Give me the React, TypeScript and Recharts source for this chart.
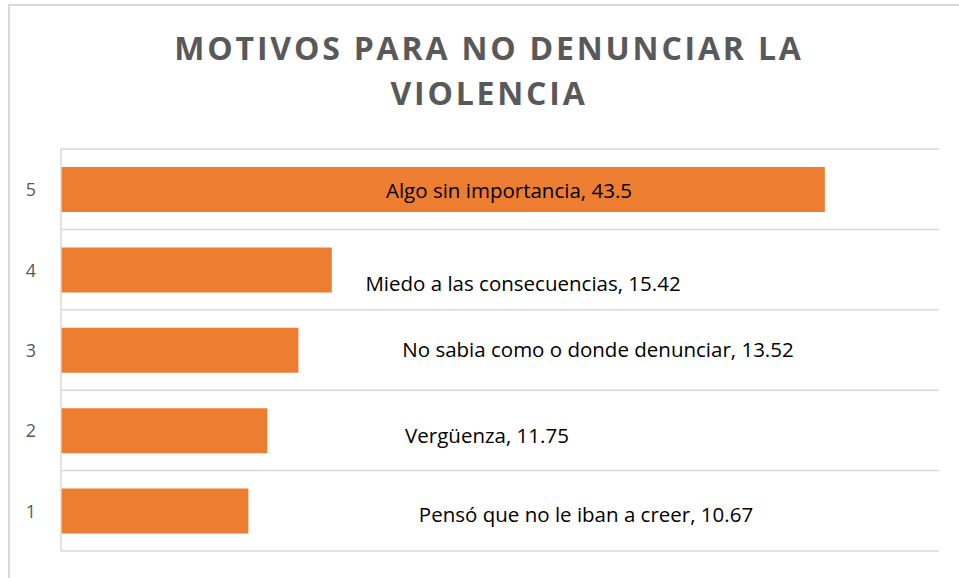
import { BarChart, Bar, XAxis, YAxis, CartesianGrid, LabelList } from "recharts"

// categories 1..5 (1 at the bottom)
const categories = ["1", "2", "3", "4", "5"]
const motivos = [
  "Pensó que no le iban a creer",
  "Vergüenza",
  "No sabia como o donde denunciar",
  "Miedo a las consecuencias",
  "Algo sin importancia",
]
const valores = [10.67, 11.75, 13.52, 15.42, 43.5]

// the labels were dragged around in the original, so each one has its own offset
const labelShift = [
  { dx: 525, dy: 3 },
  { dx: 426, dy: 4 },
  { dx: 537, dy: -1 },
  { dx: 462, dy: 13 },
  { dx: 448, dy: 0 },
]

const data = categories.map((c, i) => ({ cat: c, motivo: motivos[i], valor: valores[i] }))

const FONT = "'Open Sans', sans-serif"

const CatTick = ({ x, y, payload }) => (
  <text x={x - 22} y={y} textAnchor="middle" dominantBaseline="central" fill="#595959" fontSize={18} fontFamily={FONT}>
    {payload.value}
  </text>
)

const MotivoLabel = (props) => {
  const { x, y, height, index } = props
  const s = labelShift[index]
  return (
    <text
      x={x + s.dx}
      y={y + height / 2 + s.dy}
      textAnchor="middle"
      dominantBaseline="central"
      fill="#000"
      fontSize={20.5}
      fontFamily={FONT}
    >
      {`${motivos[index]}, ${valores[index]}`}
    </text>
  )
}

export default function App() {
  return (
    <div style={{ position: "absolute", left: 0, top: 0, width: 959, height: 578, overflow: "hidden", background: "#fff" }}>
      <div
        style={{
          position: "absolute",
          left: 8,
          top: 4,
          width: 1000,
          height: 620,
          border: "2px solid #d9d9d9",
          boxSizing: "border-box",
        }}
      />
      <div
        style={{
          position: "absolute",
          left: 129,
          top: 25,
          width: 720,
          textAlign: "center",
          fontFamily: FONT,
          fontWeight: 700,
          fontSize: 32,
          lineHeight: "45px",
          letterSpacing: 2.8,
          color: "#595959",
        }}
      >
        MOTIVOS PARA NO DENUNCIAR LA
        <br />
        VIOLENCIA
      </div>
      <div style={{ position: "absolute", left: 0, top: 0 }}>
        <BarChart
          width={959}
          height={578}
          data={data}
          layout="vertical"
          margin={{ top: 149, right: 20, bottom: 27, left: 0 }}
        >
          <CartesianGrid
            vertical={false}
            stroke="#d9d9d9"
            strokeWidth={1.5}
            horizontalCoordinatesGenerator={({ offset }) =>
              categories.map((_, i) => offset.top + (offset.height * i) / categories.length).concat(offset.top + offset.height)
            }
          />
          <XAxis type="number" domain={[0, 50]} hide />
          <YAxis
            type="category"
            dataKey="cat"
            reversed
            width={61}
            axisLine={{ stroke: "#d9d9d9", strokeWidth: 1.5 }}
            tickLine={false}
            tick={<CatTick />}
          />
          <Bar dataKey="valor" fill="#ED7D31" barSize={45} isAnimationActive={false}>
            <LabelList dataKey="valor" content={<MotivoLabel />} />
          </Bar>
        </BarChart>
      </div>
    </div>
  )
}
